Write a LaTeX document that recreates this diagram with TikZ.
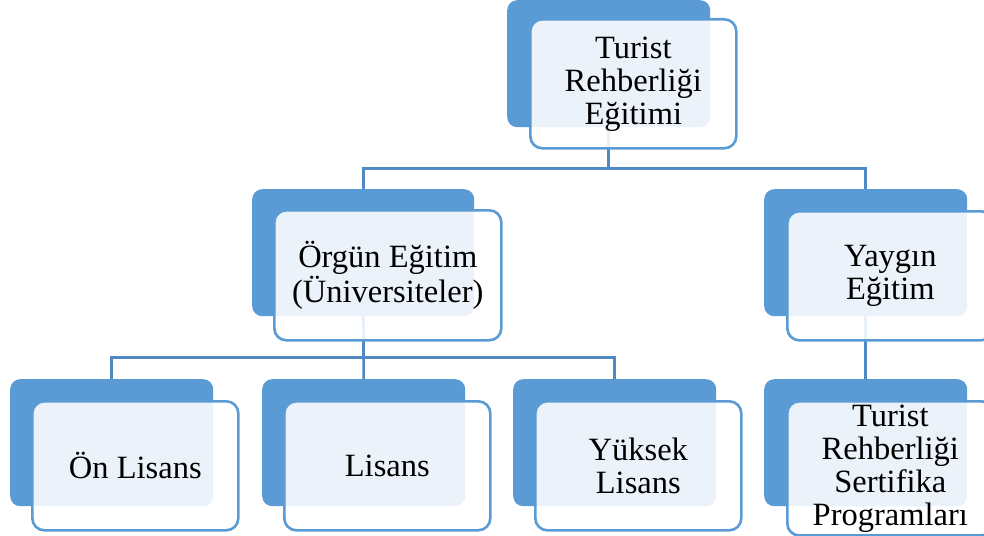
\documentclass[tikz,border=0pt]{standalone}
\usepackage{fontspec}
\setmainfont{Liberation Serif}
\newfontfamily\cardfont{Liberation Serif}
\usepackage{tikz}
\usepackage{xcolor}
\usetikzlibrary{positioning}
\definecolor{Accent}{HTML}{5B9BD5}
\definecolor{Wire}{HTML}{5189C4}
\tikzset{
  backbox/.style={
    rounded corners=10pt,fill=Accent,draw=none,
    minimum width=203pt,minimum height=127pt,anchor=north west
  },
  frontbox/.style={
    rounded corners=12pt,draw=Accent,line width=2.6pt,fill=white,
    fill opacity=0.88,text opacity=1,
    minimum width=206pt,minimum height=129pt,anchor=north west,
    align=center,font=\cardfont\fontsize{32.5}{33}\selectfont,text=black
  },
  link/.style={draw=Wire,line width=2.6pt}
}

\begin{document}
\begin{tikzpicture}[x=1pt,y=-1pt]
      \useasboundingbox (0,0) rectangle (984,535);
      % back plates
      \node[backbox] (top) at (507,0) {};
      \node[backbox,minimum width=222pt] (org) at (252,189) {};
      \node[backbox] (yay) at (764,189) {};
      \node[backbox] (onl) at (10,379) {};
      \node[backbox] (lis) at (262,379) {};
      \node[backbox] (yuk) at (513,379) {};
      \node[backbox] (sert) at (764,379) {};

      % connectors
      \draw[link] (top.south) -- ++(0,41) -| (org.north);
      \draw[link] (top.south) -- ++(0,41) -| (yay.north);
      \draw[link] (org.south) -- ++(0,41) -| (onl.north);
      \draw[link] (org.south) -- ++(0,41) -| (yuk.north);
      \draw[link] (org.south) -- (lis.north);
      \draw[link] (yay.south) -- (sert.north);

      % front cards
      \node[frontbox] (topT) at ([shift={(22,18)}]top.north west) {Turist\\Rehberliği\\Eğitimi};
      \node[frontbox,minimum width=227pt,minimum height=130pt] (orgT) at ([shift={(21,20)}]org.north west) {Örgün Eğitim\\(Üniversiteler)};
      \node[frontbox] (yayT) at ([shift={(22,21)}]yay.north west) {Yaygın\\Eğitim};
      \node[frontbox] (onlT) at ([shift={(21,21)}]onl.north west) {Ön Lisans};
      \node[frontbox] (lisT) at ([shift={(21,21)}]lis.north west) {Lisans};
      \node[frontbox] (yukT) at ([shift={(21,21)}]yuk.north west) {Yüksek\\Lisans};
      \node[frontbox] (sertT) at ([shift={(22,21)}]sert.north west) {Turist\\Rehberliği\\Sertifika\\Programları};
\end{tikzpicture}
\end{document}
